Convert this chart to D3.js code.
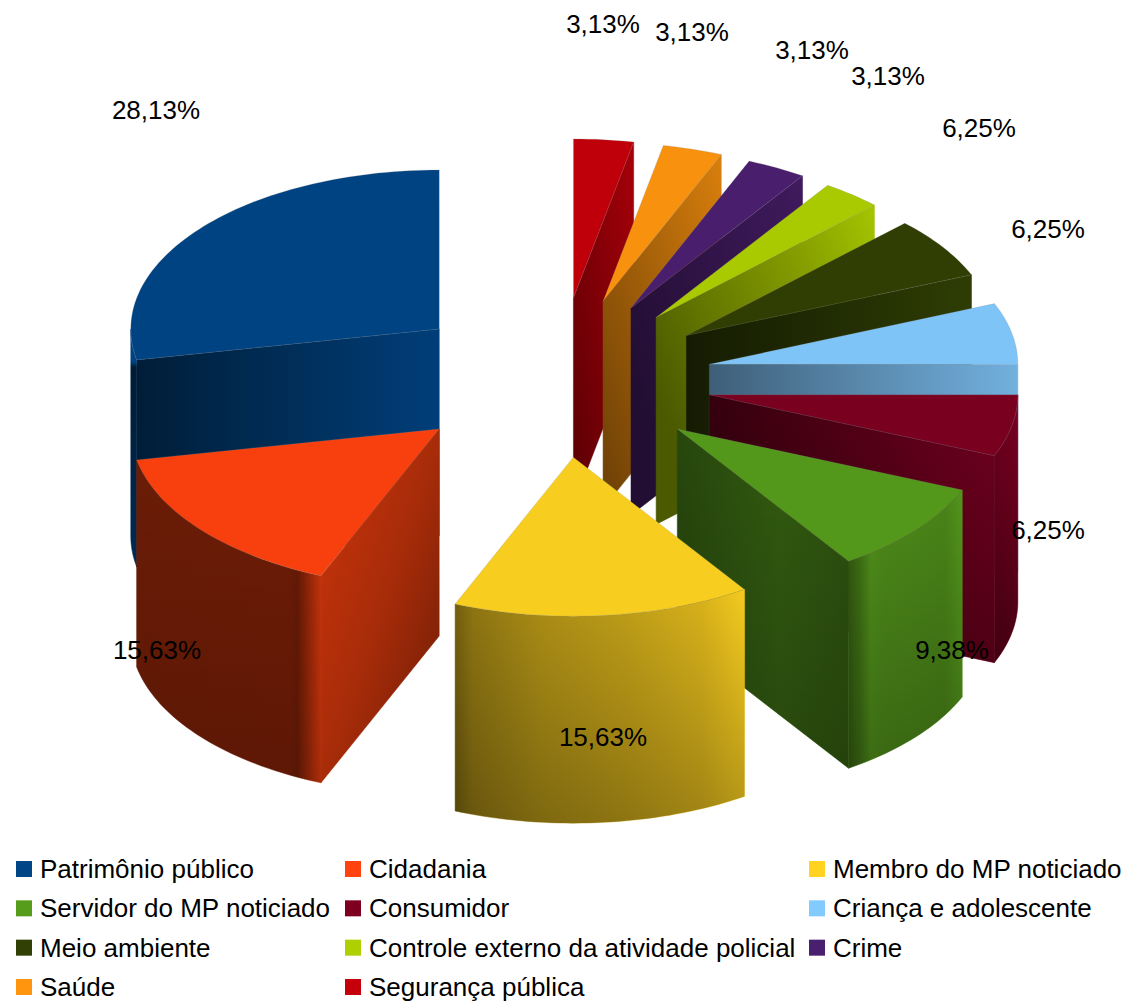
<!DOCTYPE html>
<html>
<head>
<meta charset="utf-8">
<style>
  body {
    margin: 0;
    background-color: #fff;
  }

  text {
    font-family: "Liberation Sans", Arial, sans-serif;
    font-size: 26px;
    fill: #000;
  }
</style>
<script src="https://d3js.org/d3.v7.min.js"></script>
</head>
<body>
<script>
const categories = [
  'Patrimônio público', 'Cidadania', 'Membro do MP noticiado',
  'Servidor do MP noticiado', 'Consumidor', 'Criança e adolescente',
  'Meio ambiente', 'Controle externo da atividade policial', 'Crime',
  'Saúde', 'Segurança pública'
];
const values = [28.13, 15.63, 15.63, 9.38, 6.25, 6.25, 6.25, 3.13, 3.13, 3.13, 3.13];
const colors = [
  '#004586', '#ff420e', '#ffd320', '#579d1c', '#7e0021', '#83caff',
  '#314004', '#aecf00', '#4b1f6f', '#ff950e', '#c5000b'
];

// hand placed, LibreOffice puts these more or less where it wants
const labelSpots = [
  [156, 110], [157, 650], [603, 737], [952, 650], [1048, 530], [1048, 229],
  [979, 128], [888, 76], [812, 50], [692, 32], [603, 24]
];

// wall shading, [offset, brightness]. axis is x1,y1,x2,y2 in the wall's bbox
const H = [0, 0, 1, 0];
const radialShades = [
  { axis: H, stops: [[0, 0.42], [0.5, 0.66], [1, 0.9]], fade: 0 },
  { axis: [0, 0, 1, 1], stops: [[0, 0.8], [0.5, 0.66], [1, 0.42]], fade: 0 },
  null,
  { axis: H, stops: [[0, 0.45], [0.6, 0.58], [1, 0.52]], fade: 0.2 },
  { axis: H, stops: [[0, 0.42], [1, 0.9]], fade: 0.3 },
  { axis: H, stops: [[0, 0.47], [0.5, 0.68], [1, 0.87]], fade: 0 },
  { axis: H, stops: [[0, 0.42], [0.5, 0.68], [1, 0.95]], fade: 0 },
  { axis: [1, 0, 0, 0.6], stops: [[0, 0.95], [0.3, 0.78], [1, 0.43]], fade: 0 },
  { axis: [1, 0, 0, 0.6], stops: [[0, 0.85], [1, 0.45]], fade: 0 },
  { axis: [1, 0, 0, 1], stops: [[0, 0.85], [1, 0.42]], fade: 0 },
  { axis: [1, 0, 0, 1], stops: [[0, 0.85], [1, 0.45]], fade: 0 }
];
const outerShades = [
  { axis: [0, 0, 0, 1], stops: [[0, 1], [0.14, 0.95], [0.16, 0.4], [1, 0.62]], fade: 0 },
  { axis: H, stops: [[0, 0.42], [0.83, 0.43], [0.87, 0.4], [0.93, 0.58], [1, 0.8]], fade: 0.15 },
  { axis: H, stops: [[0, 0.45], [0.06, 0.56], [0.3, 0.68], [0.6, 0.76], [0.85, 0.85], [1, 0.96]], fade: 0.27 },
  { axis: H, stops: [[0, 0.58], [0.1, 0.72], [0.2, 0.92], [0.3, 0.88], [0.85, 0.84], [1, 0.95]], fade: 0.25 },
  { axis: H, stops: [[0, 0.88], [1, 0.97]], fade: 0.42 }
];

const width = 1131;
const height = 1007;
const centerX = 558.3;
const centerY = 379.5;
const radiusX = 308.5;
const radiusY = 159;
const explodeX = 154;
const explodeY = 78;
const depth = 207;

const svg = d3.select('body')
  .append('svg')
  .attr('width', width)
  .attr('height', height)
  .style('display', 'block');

const defs = svg.append('defs');

const shade = (color, m) => {
  const c = d3.rgb(color);
  return d3.rgb(c.r * m, c.g * m, c.b * m).formatHex();
};

// counter clockwise from 12 o'clock, same as the original
const pie = d3.pie().sort(null).startAngle(0).endAngle(2 * Math.PI);

const slices = pie(values).map((d, i) => {
  const mid = (d.startAngle + d.endAngle) / 2;
  const c = Math.cos(mid);
  return {
    i,
    a0: d.startAngle,
    a1: d.endAngle,
    // back pieces sit a bit higher, the 3d view has some perspective
    x: centerX - Math.sin(mid) * explodeX,
    y: centerY - c * explodeY - 4 * Math.pow(Math.max(c, 0), 3)
  };
});

const rim = (s, a) => [s.x - radiusX * Math.sin(a), s.y - radiusY * Math.cos(a)];
const arcPoints = (s, a0, a1) => {
  const n = Math.max(2, Math.ceil((a1 - a0) * 40));
  return d3.range(n + 1).map(k => rim(s, a0 + (a1 - a0) * k / n));
};
const line = d3.line();
const drop = p => [p[0], p[1] + depth];

const addGradient = (id, shadeDef, color) => {
  const g = defs.append('linearGradient')
    .attr('id', id)
    .attr('x1', shadeDef.axis[0])
    .attr('y1', shadeDef.axis[1])
    .attr('x2', shadeDef.axis[2])
    .attr('y2', shadeDef.axis[3]);
  shadeDef.stops.forEach(st => {
    g.append('stop').attr('offset', st[0]).attr('stop-color', shade(color, st[1]));
  });
};

const addFade = (id, alpha) => {
  const g = defs.append('linearGradient')
    .attr('id', id)
    .attr('x1', 0).attr('y1', 0).attr('x2', 0).attr('y2', 1);
  g.append('stop').attr('offset', 0).attr('stop-color', '#000').attr('stop-opacity', 0);
  g.append('stop').attr('offset', 1).attr('stop-color', '#000').attr('stop-opacity', alpha);
};

const drawWall = (group, pts, id, shadeDef, color) => {
  addGradient(id, shadeDef, color);
  group.append('path')
    .attr('d', line(pts) + 'Z')
    .attr('fill', `url(#${id})`)
    .attr('stroke', `url(#${id})`)
    .attr('stroke-width', 0.5);
  if (shadeDef.fade > 0) {
    addFade(id + 'f', shadeDef.fade);
    group.append('path')
      .attr('d', line(pts) + 'Z')
      .attr('fill', `url(#${id}f)`);
  }
};

// back to front
const pieces = svg.append('g')
  .selectAll('g')
  .data(slices.slice().sort((a, b) => d3.ascending(a.y, b.y)))
  .join('g');

pieces.each(function (s) {
  const group = d3.select(this);
  const color = colors[s.i];
  const apex = [s.x, s.y];

  // only one of the two cut faces looks at the viewer
  const radialShade = radialShades[s.i];
  if (radialShade) {
    const a = s.a1 <= Math.PI + 1e-6 ? s.a1 : s.a0;
    const p = rim(s, a);
    drawWall(group, [p, apex, drop(apex), drop(p)], 'radial' + s.i, radialShade, color);
  }

  // outer skin, front half of the ellipse only
  const from = Math.max(s.a0, Math.PI / 2);
  const to = Math.min(s.a1, Math.PI * 1.5);
  if (to > from && outerShades[s.i]) {
    const top = arcPoints(s, from, to);
    const bottom = top.map(drop).reverse();
    drawWall(group, top.concat(bottom), 'outer' + s.i, outerShades[s.i], color);
  }

  group.append('path')
    .attr('d', line([apex].concat(arcPoints(s, s.a0, s.a1))) + 'Z')
    .attr('fill', shade(color, 0.97))
    .attr('stroke', '#8a8a8a')
    .attr('stroke-opacity', 0.35)
    .attr('stroke-width', 0.6);
});

svg.append('g')
  .selectAll('text')
  .data(values)
  .join('text')
  .attr('x', (d, i) => labelSpots[i][0])
  .attr('y', (d, i) => labelSpots[i][1])
  .attr('text-anchor', 'middle')
  .attr('dominant-baseline', 'central')
  .text(d => d.toFixed(2).replace('.', ',') + '%');

// legend, filled left to right in 3 columns
const legendCol = d3.scaleOrdinal().domain([0, 1, 2]).range([16, 345, 809]);
const legendRow = d3.scalePoint().domain([0, 1, 2, 3]).range([869, 987]);

const legend = svg.append('g')
  .selectAll('g')
  .data(categories)
  .join('g')
  .attr('transform', (d, i) => `translate(${legendCol(i % 3)},${legendRow(Math.floor(i / 3))})`);

legend.append('rect')
  .attr('y', -8)
  .attr('width', 16)
  .attr('height', 16)
  .attr('fill', (d, i) => colors[i]);

legend.append('text')
  .attr('x', 24)
  .attr('dominant-baseline', 'central')
  .text(d => d);
</script>
</body>
</html>
